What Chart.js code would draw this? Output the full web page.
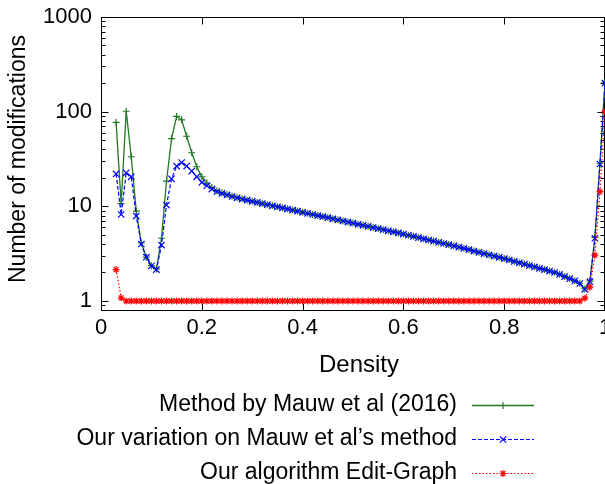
<!DOCTYPE html>
<html>
<head>
<meta charset="utf-8">
<script src="https://cdn.jsdelivr.net/npm/chart.js@4.4.1/dist/chart.umd.min.js"></script>
<style>
  html, body { margin: 0; padding: 0; background: #fff; }
  #wrap { width: 605px; height: 484px; }
</style>
</head>
<body>
<div id="wrap"><canvas id="chart" width="605" height="484"></canvas></div>
<script>
// 横軸（密度）
const densities = [
  0.03, 0.04, 0.05, 0.06, 0.07, 0.08, 0.09, 0.10, 0.11, 0.12,
  0.13, 0.14, 0.15, 0.16, 0.17, 0.18, 0.19, 0.20, 0.21, 0.22,
  0.23, 0.24, 0.25, 0.26, 0.27, 0.28, 0.29, 0.30, 0.31, 0.32,
  0.33, 0.34, 0.35, 0.36, 0.37, 0.38, 0.39, 0.40, 0.41, 0.42,
  0.43, 0.44, 0.45, 0.46, 0.47, 0.48, 0.49, 0.50, 0.51, 0.52,
  0.53, 0.54, 0.55, 0.56, 0.57, 0.58, 0.59, 0.60, 0.61, 0.62,
  0.63, 0.64, 0.65, 0.66, 0.67, 0.68, 0.69, 0.70, 0.71, 0.72,
  0.73, 0.74, 0.75, 0.76, 0.77, 0.78, 0.79, 0.80, 0.81, 0.82,
  0.83, 0.84, 0.85, 0.86, 0.87, 0.88, 0.89, 0.90, 0.91, 0.92,
  0.93, 0.94, 0.95, 0.96, 0.97, 0.98, 0.99, 1.00
];

// Method by Mauw et al (2016)
const mauwValues = [
  77, 10.7, 101, 33.4, 8.9, 4.1, 2.9, 2.36, 2.18, 4.6,
  18.5, 52, 89, 82, 55, 36.8, 26.2, 20.5, 17.6, 15.8,
  14.6, 13.9, 13.3, 12.8, 12.4, 12.0, 11.6, 11.3, 11.0, 10.7,
  10.4, 10.2, 9.9, 9.65, 9.4, 9.15, 8.9, 8.67, 8.44, 8.22,
  8.0, 7.8, 7.6, 7.4, 7.2, 7.02, 6.84, 6.65, 6.48, 6.31,
  6.15, 5.98, 5.82, 5.67, 5.52, 5.38, 5.24, 5.1, 4.96, 4.82,
  4.68, 4.55, 4.42, 4.3, 4.17, 4.06, 3.94, 3.83, 3.71, 3.6,
  3.49, 3.38, 3.28, 3.18, 3.08, 2.99, 2.9, 2.81, 2.72, 2.63,
  2.54, 2.46, 2.38, 2.3, 2.22, 2.15, 2.08, 2.01, 1.92, 1.82,
  1.73, 1.64, 1.54, 1.34, 1.62, 4.7, 28.5, 205
];

// Our variation on Mauw et al's method
const variationValues = [
  22, 8.2, 22.6, 20.5, 7.9, 4.0, 2.9, 2.35, 2.15, 3.9,
  10.3, 19.5, 26.6, 29, 26.6, 23.6, 20.5, 17.9, 16.5, 15.2,
  14.3, 13.7, 13.2, 12.7, 12.3, 11.9, 11.6, 11.3, 11.0, 10.7,
  10.4, 10.1, 9.87, 9.62, 9.37, 9.12, 8.88, 8.65, 8.42, 8.20,
  7.99, 7.78, 7.58, 7.38, 7.19, 7.00, 6.82, 6.64, 6.46, 6.30,
  6.13, 5.97, 5.81, 5.66, 5.51, 5.37, 5.23, 5.09, 4.95, 4.81,
  4.67, 4.54, 4.41, 4.29, 4.16, 4.05, 3.93, 3.82, 3.70, 3.59,
  3.48, 3.37, 3.27, 3.17, 3.07, 2.98, 2.89, 2.80, 2.71, 2.62,
  2.53, 2.45, 2.37, 2.29, 2.21, 2.14, 2.07, 2.00, 1.91, 1.81,
  1.72, 1.63, 1.53, 1.33, 1.60, 4.6, 28, 200
];

// Our algorithm Edit-Graph
const editGraphValues = [
  2.15, 1.08, 1, 1, 1, 1, 1, 1, 1, 1,
  1, 1, 1, 1, 1, 1, 1, 1, 1, 1,
  1, 1, 1, 1, 1, 1, 1, 1, 1, 1,
  1, 1, 1, 1, 1, 1, 1, 1, 1, 1,
  1, 1, 1, 1, 1, 1, 1, 1, 1, 1,
  1, 1, 1, 1, 1, 1, 1, 1, 1, 1,
  1, 1, 1, 1, 1, 1, 1, 1, 1, 1,
  1, 1, 1, 1, 1, 1, 1, 1, 1, 1,
  1, 1, 1, 1, 1, 1, 1, 1, 1, 1,
  1, 1, 1, 1.07, 1.4, 3.05, 14.3, 100
];

const seriesLabels = [
  'Method by Mauw et al (2016)',
  'Our variation on Mauw et al\u2019s method',
  'Our algorithm Edit-Graph'
];

const xTickValues = [0, 0.2, 0.4, 0.6, 0.8, 1];
const xTickLabels = ['0', '0.2', '0.4', '0.6', '0.8', '1'];
const yTickValues = [1, 10, 100, 1000];
const yTickLabels = ['1', '10', '100', '1000'];
const xTitle = 'Density';
const yTitle = 'Number of modifications';

const FONT_FAMILY = '"Liberation Sans", Arial, Helvetica, sans-serif';

function toPoints(values) {
  return densities.map((d, i) => ({ x: d, y: values[i] }));
}

// gnuplot風の枠と内向きの目盛り
const framePlugin = {
  id: 'frame',
  beforeDatasetsDraw(chart) {
    const { ctx, chartArea: a, scales: { x, y } } = chart;
    const L = Math.round(a.left) + 0.5;
    const R = Math.round(a.right) - 0.5;
    const T = Math.round(a.top) + 0.5;
    const B = Math.round(a.bottom) - 0.5;
    ctx.save();
    ctx.strokeStyle = '#000';
    ctx.lineWidth = 1;
    ctx.strokeRect(L, T, R - L, B - T);
    ctx.beginPath();
    xTickValues.forEach(v => {
      const px = Math.round(x.getPixelForValue(v)) + 0.5;
      ctx.moveTo(px, B); ctx.lineTo(px, B - 7);
      ctx.moveTo(px, T); ctx.lineTo(px, T + 7);
    });
    yTickValues.forEach(v => {
      const py = Math.round(y.getPixelForValue(v)) + 0.5;
      ctx.moveTo(L, py); ctx.lineTo(L + 7, py);
      ctx.moveTo(R, py); ctx.lineTo(R - 7, py);
    });
    // 補助目盛り
    for (let dec = 0.1; dec < 1000; dec *= 10) {
      for (let m = 2; m <= 9; m++) {
        const v = dec * m;
        if (v < y.min || v > y.max) continue;
        const py = Math.round(y.getPixelForValue(v)) + 0.5;
        ctx.moveTo(L, py); ctx.lineTo(L + 4, py);
        ctx.moveTo(R, py); ctx.lineTo(R - 4, py);
      }
    }
    ctx.stroke();
    ctx.restore();
  }
};

// 軸タイトル
const axisTitlePlugin = {
  id: 'axisTitles',
  afterDraw(chart) {
    const ctx = chart.ctx;
    ctx.save();
    ctx.fillStyle = '#000';
    ctx.textAlign = 'center';
    ctx.textBaseline = 'middle';
    ctx.font = '24px ' + FONT_FAMILY;
    ctx.fillText(xTitle, 359, 365);
    ctx.font = '23px ' + FONT_FAMILY;
    ctx.translate(19, 159);
    ctx.rotate(-Math.PI / 2);
    ctx.fillText(yTitle, 0, 0);
    ctx.restore();
  }
};

// 凡例（テキスト右寄せ、線見本は右側）
const sideLegendPlugin = {
  id: 'sideLegend',
  afterDraw(chart) {
    const ctx = chart.ctx;
    chart.data.datasets.forEach((ds, i) => {
      const rowY = 405 + i * 34;
      ctx.save();
      ctx.font = '23px ' + FONT_FAMILY;
      ctx.fillStyle = '#000';
      ctx.textAlign = 'right';
      ctx.textBaseline = 'middle';
      ctx.fillText(ds.label, 457, rowY);

      ctx.strokeStyle = ds.borderColor;
      ctx.lineWidth = ds.borderWidth;
      ctx.setLineDash(ds.borderDash || []);
      ctx.beginPath();
      ctx.moveTo(472, rowY + 0.5);
      ctx.lineTo(534, rowY + 0.5);
      ctx.stroke();
      ctx.setLineDash([]);

      ctx.fillStyle = ds.pointBackgroundColor;
      ctx.strokeStyle = ds.pointBorderColor;
      ctx.lineWidth = ds.pointBorderWidth;
      Chart.helpers.drawPoint(ctx, {
        pointStyle: ds.pointStyle,
        radius: ds.pointRadius,
        borderWidth: ds.pointBorderWidth,
        rotation: 0
      }, 503, rowY + 0.5);
      ctx.restore();
    });
  }
};

const ctx = document.getElementById('chart').getContext('2d');
new Chart(ctx, {
  type: 'line',
  data: {
    datasets: [
      {
        label: seriesLabels[0],
        data: toPoints(mauwValues),
        order: 3,
        borderColor: '#217821',
        borderWidth: 1.3,
        pointStyle: 'cross',
        pointRadius: 3.5,
        pointBorderWidth: 1.2,
        pointBorderColor: '#217821',
        pointBackgroundColor: '#217821',
        tension: 0
      },
      {
        label: seriesLabels[1],
        data: toPoints(variationValues),
        order: 2,
        borderColor: '#0000ff',
        borderWidth: 1.2,
        borderDash: [4, 2],
        pointStyle: 'crossRot',
        pointRadius: 4.5,
        pointBorderWidth: 1.2,
        pointBorderColor: '#0000ff',
        pointBackgroundColor: '#0000ff',
        tension: 0
      },
      {
        label: seriesLabels[2],
        data: toPoints(editGraphValues),
        order: 1,
        borderColor: '#ff0000',
        borderWidth: 1.2,
        borderDash: [1.5, 2],
        pointStyle: 'star',
        pointRadius: 3.5,
        pointBorderWidth: 1.2,
        pointBorderColor: '#ff0000',
        pointBackgroundColor: '#ff0000',
        tension: 0
      }
    ]
  },
  options: {
    responsive: false,
    animation: false,
    layout: { autoPadding: false, padding: { top: 17, right: 0, bottom: 0, left: 0 } },
    plugins: {
      legend: { display: false },
      tooltip: { enabled: false }
    },
    scales: {
      x: {
        type: 'linear',
        min: 0,
        max: 1,
        grid: { display: false, drawTicks: false },
        border: { display: false },
        ticks: {
          padding: 4,
          color: '#000',
          font: { family: FONT_FAMILY, size: 22 },
          maxRotation: 0,
          autoSkip: false,
          callback: (value, index) => xTickLabels[index]
        },
        afterBuildTicks: scale => {
          scale.ticks = xTickValues.map(v => ({ value: v }));
        },
        afterFit: scale => {
          scale.height = 173;
          scale.paddingLeft = 0;
          scale.paddingRight = 0;
        }
      },
      y: {
        type: 'logarithmic',
        min: 0.784,
        max: 1000,
        grid: { display: false, drawTicks: false },
        border: { display: false },
        ticks: {
          padding: 9,
          color: '#000',
          font: { family: FONT_FAMILY, size: 22 },
          autoSkip: false,
          callback: (value, index) => yTickLabels[index]
        },
        afterBuildTicks: scale => {
          scale.ticks = yTickValues.map(v => ({ value: v }));
        },
        afterFit: scale => {
          scale.width = 101;
          scale.paddingTop = 0;
          scale.paddingBottom = 0;
        }
      }
    }
  },
  plugins: [framePlugin, axisTitlePlugin, sideLegendPlugin]
});
</script>
</body>
</html>
